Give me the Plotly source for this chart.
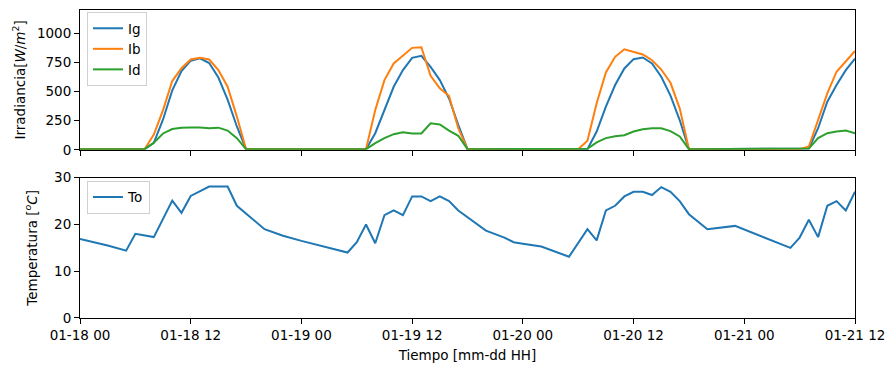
import pandas as pd
import plotly.graph_objects as go
from plotly.subplots import make_subplots

# ---------------- data ----------------
start = "2023-01-18 00:00"
irr_hours = list(range(0, 85))

Ig = [5, 5, 5, 5, 5, 5, 5, 5,
      60, 260, 510, 675, 765, 785, 745, 620, 430, 200,
      5, 5, 5, 5, 5, 5, 5, 5, 5, 5, 5, 5, 5, 5,
      142, 342, 541, 684, 789, 806, 712, 598, 440, 214,
      5, 5, 5, 5, 5, 5, 5, 5, 5, 5, 5, 5, 5, 5,
      157, 370, 556, 698, 778, 792, 741, 627, 465, 255,
      5, 5, 5, 5, 5, 5, 5, 5, 5, 5, 5, 5, 5,
      10, 185, 413, 556, 684, 783]

Ib = [5, 5, 5, 5, 5, 5, 5, 5,
      130, 340, 590, 700, 775, 790, 775, 684, 541, 285,
      5, 5, 5, 5, 5, 5, 5, 5, 5, 5, 5, 5, 5, 5,
      342, 598, 741, 806, 875, 880, 635, 527, 461, 185,
      5, 5, 5, 5, 5, 5, 5, 5, 5, 5, 5, 5, 5, 77,
      399, 664, 798, 863, 840, 818, 769, 689, 575, 356,
      5, 5, 5, 5, 5, 5, 5, 5, 5, 5, 5, 5, 5,
      28, 256, 484, 670, 755, 849]

Id = [5, 5, 5, 5, 5, 5, 5, 5,
      60, 140, 178, 190, 192, 192, 185, 190, 165, 100,
      5, 5, 5, 5, 5, 5, 5, 5, 5, 5, 5, 5, 5, 5,
      57, 100, 134, 151, 140, 140, 228, 217, 165, 120,
      5, 5, 5, 5, 5, 5, 5, 5, 5, 5, 5, 5, 5, 8,
      63, 100, 117, 125, 157, 177, 185, 185, 160, 114,
      5, 5, 5, 5, 5, 5, 5, 5, 5, 5, 5, 5, 5,
      10, 100, 142, 157, 165, 142]

T_hours = [0, 3, 5, 6, 8, 10, 11, 12, 14, 16, 17, 20, 22, 24, 29, 30, 31, 32,
           33, 34, 35, 36, 37, 38, 39, 40, 41, 42, 44, 46, 47, 48, 50, 53, 55,
           56, 57, 58, 59, 60, 61, 62, 63, 64, 65, 66, 68, 71, 77, 78, 79, 80,
           81, 82, 83, 84]
To = [16.9, 15.5, 14.4, 18.0, 17.3, 25.1, 22.5, 26.1, 28.1, 28.1, 24.0, 19.0,
      17.6, 16.5, 14.0, 16.2, 20.0, 16.0, 22.0, 23.0, 22.0, 26.0, 26.0, 25.0,
      26.0, 25.0, 23.0, 21.5, 18.7, 17.2, 16.2, 15.9, 15.3, 13.1, 19.0, 16.6,
      23.0, 24.0, 26.0, 27.0, 27.0, 26.3, 28.0, 27.0, 25.0, 22.2, 19.0, 19.7,
      15.0, 17.2, 21.0, 17.3, 24.0, 25.0, 23.0, 27.0]

irr_ticks = [0, 250, 500, 750, 1000]
temp_ticks = [0, 10, 20, 30]
x_end = "2023-01-21 12:00"

t0 = pd.Timestamp(start)
t_irr = [t0 + pd.Timedelta(hours=h) for h in irr_hours]
t_temp = [t0 + pd.Timedelta(hours=h) for h in T_hours]

# ---------------- figure ----------------
FONT = "DejaVu Sans"
FS = 13.5
C = ["#1f77b4", "#ff7f0e", "#2ca02c"]

fig = make_subplots(rows=2, cols=1, shared_xaxes=False)

for name, vals, col in [("Ig", Ig, C[0]), ("Ib", Ib, C[1]), ("Id", Id, C[2])]:
    fig.add_trace(go.Scatter(x=t_irr, y=vals, mode="lines", name=name,
                             line=dict(color=col, width=2), legend="legend"),
                  row=1, col=1)
fig.add_trace(go.Scatter(x=t_temp, y=To, mode="lines", name="To",
                         line=dict(color=C[0], width=2), legend="legend2"),
              row=2, col=1)

# page body has an 8px margin: compensate
W, H = 888, 363
mt, mb, ml, mr = 2, 52.5, 72, 41
ph = H - mt - mb
top_dom = [(ph - 140) / ph, 1]
bot_dom = [0, 140.5 / ph]

axis_common = dict(showline=True, linecolor="black", linewidth=1.1, mirror=True,
                   ticks="outside", ticklen=5, tickwidth=1.1, tickcolor="black",
                   showgrid=False, zeroline=False, automargin=False,
                   tickfont=dict(family=FONT, size=FS, color="black"))

xcommon = dict(axis_common, type="date", range=[t0, pd.Timestamp(x_end)],
               tick0=t0, dtick=12 * 3600 * 1000, tickformat="%m-%d %H")

fig.update_layout(
    xaxis=dict(xcommon, showticklabels=False, domain=[0, 1], anchor="y"),
    xaxis2=dict(xcommon, domain=[0, 1], anchor="y2", matches="x",
                title=dict(text="Tiempo [mm-dd HH]", standoff=8,
                           font=dict(family=FONT, size=FS, color="black"))),
    yaxis=dict(axis_common, domain=top_dom, range=[0, 1200], tickvals=irr_ticks,
               title=dict(text="Irradiancia[<i>W</i>/<i>m</i><sup>2</sup>]", standoff=8,
                          font=dict(family=FONT, size=FS, color="black"))),
    yaxis2=dict(axis_common, domain=bot_dom, range=[0, 30], tickvals=temp_ticks,
                title=dict(text="Temperatura [<sup><i>o</i></sup><i>C</i>]", standoff=13,
                           font=dict(family=FONT, size=FS, color="black"))),
    legend=dict(x=0.009, y=1 - 2 / ph, xanchor="left", yanchor="top",
                bgcolor="rgba(255,255,255,0.8)", bordercolor="#d0d0d0", borderwidth=1,
                font=dict(family=FONT, size=FS, color="black"), itemwidth=30,
                tracegroupgap=0),
    legend2=dict(x=0.009, y=bot_dom[1] - 3 / ph, xanchor="left", yanchor="top",
                 bgcolor="rgba(255,255,255,0.8)", bordercolor="#d0d0d0", borderwidth=1,
                 font=dict(family=FONT, size=FS, color="black"), itemwidth=30),
    width=W, height=H,
    margin=dict(l=ml, r=mr, t=mt, b=mb, autoexpand=False),
    paper_bgcolor="white", plot_bgcolor="white",
    font=dict(family=FONT, size=FS, color="black"),
)

fig.write_html("out.html")
